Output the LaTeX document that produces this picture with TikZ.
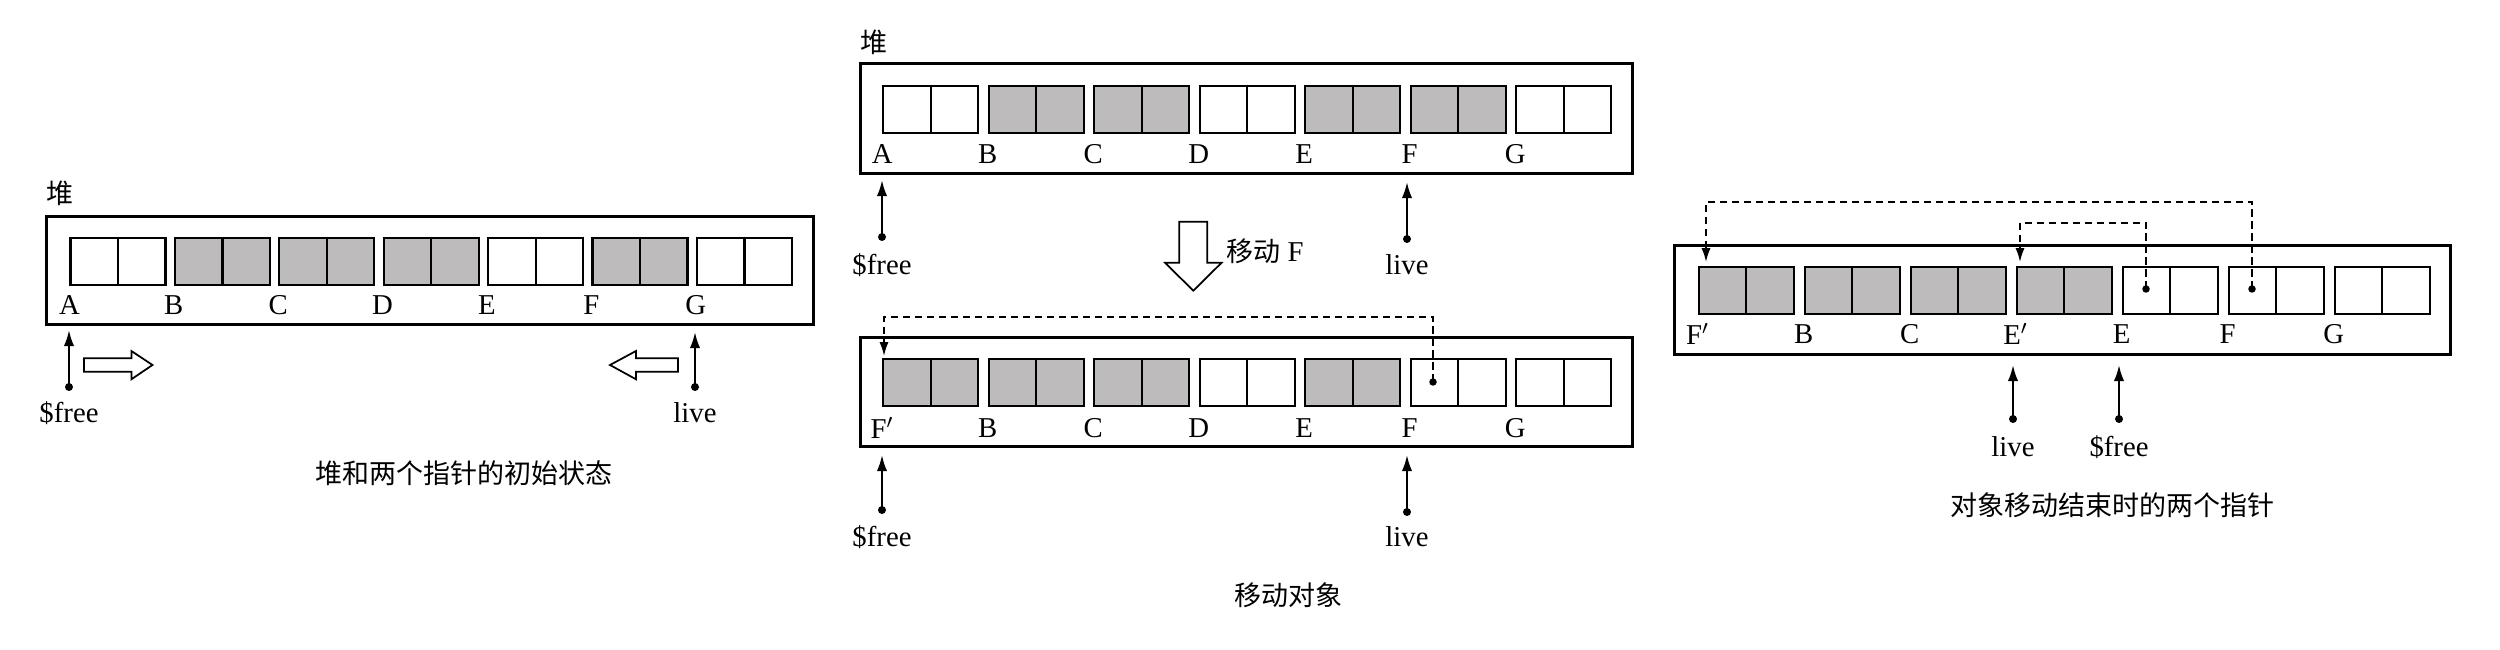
\documentclass[tikz,border=0pt]{standalone}
\usepackage{fontspec}
\setmainfont{Liberation Serif}
\newfontfamily\cjk{Noto Sans CJK SC}
\usetikzlibrary{arrows.meta}
\definecolor{objgray}{RGB}{190,187,188}

\tikzset{
  obj/.style={draw, line width=0.9pt, minimum width=38pt, minimum height=18.8pt, inner sep=0pt, anchor=north west},
  heapbox/.style={draw, line width=1.2pt},
  ptr/.style={line width=0.9pt, -{Latex[length=6.5pt,width=4.2pt]}},
  fwd/.style={line width=0.7pt, dash pattern=on 3pt off 1.8pt, -{Latex[length=5.5pt,width=3.6pt]}},
  lbl/.style={font=\fontsize{11.5}{13}\selectfont, inner sep=0pt},
  captxt/.style={font=\cjk\fontsize{10.8}{13}\selectfont, inner sep=0pt},
  hollow/.style={draw, line width=0.7pt, fill=white},
}

\begin{document}
\begin{tikzpicture}[x=0.4pt,y=0.4pt,yscale=-1,xscale=1]
            \useasboundingbox (0,0) rectangle (2500,650);

            % Panel 1: initial state
            \node[captxt] (heap1) at (60,193) {堆};
            \draw[heapbox] (46,217) rectangle (813,325);
            \foreach \n/\f [count=\i from 0] in {A/white,B/objgray,C/objgray,D/objgray,E/white,F/objgray,G/white}{
              \pgfmathsetmacro\x{69.4+104.4*\i}
              \node[obj, fill=\f] (pa\i) at (\x,237) {};
              \draw[line width=0.9pt] (pa\i.north) -- (pa\i.south);
              \node[lbl] (la\i) at (\x,305) {\n};
            }
            \coordinate (fdot1) at (69,387); \coordinate (ftip1) at (69,330);
            \coordinate (ldot1) at (695,387); \coordinate (ltip1) at (695,332);
            \fill (fdot1) circle[radius=1.6pt]; \draw[ptr] (fdot1) -- (ftip1);
            \fill (ldot1) circle[radius=1.6pt]; \draw[ptr] (ldot1) -- (ltip1);
            \node[lbl] (free1) at (69,413) {\$free};
            \node[lbl] (live1) at (695,413) {live};
            \draw[hollow] (84,358.3) -- (131.4,358.3) -- (131.4,351) -- (152.5,365) -- (131.4,379.3) -- (131.4,371.7) -- (84,371.7) -- cycle;
            \draw[hollow] (678,358.3) -- (636,358.3) -- (636,351) -- (610,365) -- (636,379.3) -- (636,371.7) -- (678,371.7) -- cycle;
            \node[captxt] (cap1) at (464,473) {堆和两个指针的初始状态};

            % Panel 2: moving F
            \node[captxt] (heap2) at (874,42) {堆};
            \draw[heapbox] (860,64) rectangle (1632,174);
            \foreach \n/\f [count=\i from 0] in {A/white,B/objgray,C/objgray,D/white,E/objgray,F/objgray,G/white}{
              \pgfmathsetmacro\x{882.2+105.5*\i}
              \node[obj, fill=\f] (pb\i) at (\x,85) {};
              \draw[line width=0.9pt] (pb\i.north) -- (pb\i.south);
              \node[lbl] (lb\i) at (\x,154) {\n};
            }
            \coordinate (fdot2) at (882,237); \coordinate (ftip2) at (882,180);
            \coordinate (ldot2) at (1407,239); \coordinate (ltip2) at (1407,182);
            \fill (fdot2) circle[radius=1.6pt]; \draw[ptr] (fdot2) -- (ftip2);
            \fill (ldot2) circle[radius=1.6pt]; \draw[ptr] (ldot2) -- (ltip2);
            \node[lbl] (free2) at (882,265) {\$free};
            \node[lbl] (live2) at (1407,265) {live};
            \draw[hollow] (1179.3,221.7) -- (1207.3,221.7) -- (1207.3,262.7) -- (1221.6,262.7) -- (1193.3,290.7) -- (1165,262.7) -- (1179.3,262.7) -- cycle;
            \node[lbl, anchor=west] (move) at (1226,251) {{\cjk\fontsize{10.8}{13}\selectfont 移动} F};

            \draw[heapbox] (860,338) rectangle (1632,447);
            \foreach \n/\f [count=\i from 0] in {F$'$/objgray,B/objgray,C/objgray,D/white,E/objgray,F/white,G/white}{
              \pgfmathsetmacro\x{882.2+105.5*\i}
              \node[obj, fill=\f] (pc\i) at (\x,358) {};
              \draw[line width=0.9pt] (pc\i.north) -- (pc\i.south);
              \node[lbl] (lc\i) at (\x,428) {\n};
            }
            \coordinate (mdot2) at (1433,382); \coordinate (mtip2) at (884,356);
            \fill (mdot2) circle[radius=1.5pt];
            \draw[fwd] (mdot2) -- (1433,317) -| (mtip2);
            \coordinate (fdot3) at (882,510); \coordinate (ftip3) at (882,455);
            \coordinate (ldot3) at (1407,512); \coordinate (ltip3) at (1407,455);
            \fill (fdot3) circle[radius=1.6pt]; \draw[ptr] (fdot3) -- (ftip3);
            \fill (ldot3) circle[radius=1.6pt]; \draw[ptr] (ldot3) -- (ltip3);
            \node[lbl] (free3) at (882,537) {\$free};
            \node[lbl] (live3) at (1407,537) {live};
            \node[captxt] (cap2) at (1288,595) {移动对象};

            % Panel 3: end of moving
            \draw[heapbox] (1674.5,246) rectangle (2450.5,355);
            \foreach \n/\f [count=\i from 0] in {F$'$/objgray,B/objgray,C/objgray,E$'$/objgray,E/white,F/white,G/white}{
              \pgfmathsetmacro\x{1697.7+106*\i}
              \node[obj, fill=\f] (pd\i) at (\x,266) {};
              \draw[line width=0.9pt] (pd\i.north) -- (pd\i.south);
              \node[lbl] (ld\i) at (\x,334) {\n};
            }
            \coordinate (odot) at (2252,289); \coordinate (otip) at (1706,262);
            \coordinate (idot) at (2146,289); \coordinate (itip) at (2020,262);
            \fill (odot) circle[radius=1.5pt]; \fill (idot) circle[radius=1.5pt];
            \draw[fwd] (odot) -- (2252,202) -| (otip);
            \draw[fwd] (idot) -- (2146,223) -| (itip);
            \coordinate (ldot4) at (2013,419); \coordinate (ltip4) at (2013,365);
            \coordinate (fdot4) at (2119,419); \coordinate (ftip4) at (2119,365);
            \fill (ldot4) circle[radius=1.6pt]; \draw[ptr] (ldot4) -- (ltip4);
            \fill (fdot4) circle[radius=1.6pt]; \draw[ptr] (fdot4) -- (ftip4);
            \node[lbl] (live4) at (2013,447) {live};
            \node[lbl] (free4) at (2119,447) {\$free};
            \node[captxt] (cap3) at (2112,505) {对象移动结束时的两个指针};

            \end{tikzpicture}
\end{document}
